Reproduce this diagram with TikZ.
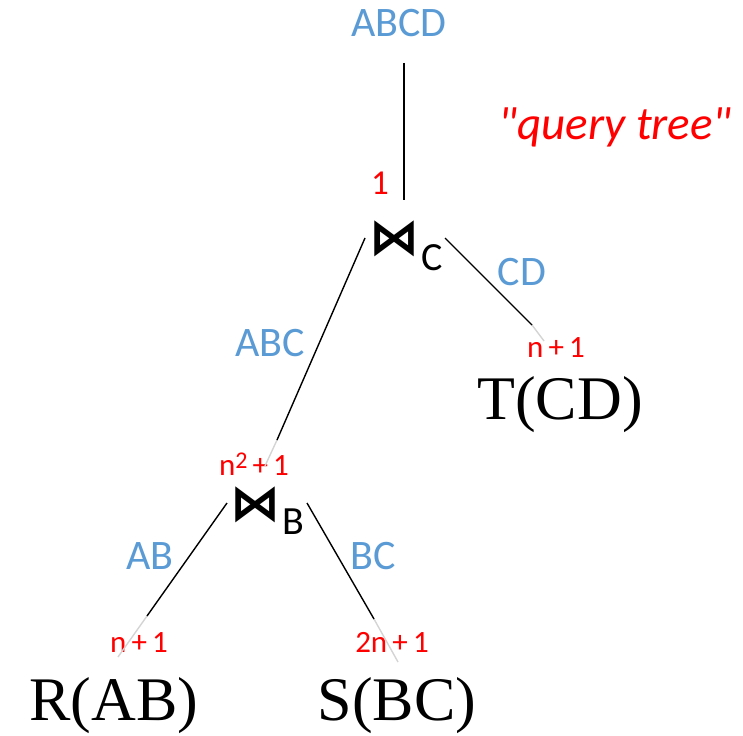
\documentclass[tikz,border=0pt]{standalone}
\usepackage{fontspec}
\setmainfont{Carlito}
\newfontfamily\leaffont{Liberation Serif}
\newfontfamily\bowfont{DejaVu Sans}
\definecolor{lblblue}{HTML}{5B9BD5}
\definecolor{tailgray}{HTML}{D4D4D4}
\tikzset{
  attrlbl/.style={inner sep=0pt, anchor=base, text=lblblue, font=\fontsize{42}{48}\selectfont},
  cardlbl/.style={inner sep=0pt, anchor=base, text=red, font=\fontsize{31}{36}\selectfont},
  leaflbl/.style={inner sep=0pt, anchor=base, text=black, font=\leaffont\fontsize{62}{70}\selectfont},
  joinsym/.style={inner sep=0pt, anchor=base, text=black, font=\bowfont\bfseries\fontsize{50}{56}\selectfont},
  joinsub/.style={inner sep=0pt, anchor=base, text=black, font=\fontsize{40}{46}\selectfont},
  conn/.style={line width=1.4pt, black},
  tailseg/.style={line width=1.4pt, tailgray},
}
\begin{document}
\begin{tikzpicture}[x=1pt,y=-1pt]
\useasboundingbox (0,0) rectangle (743,735);
% labels
\node[attrlbl] (abcd) at (399,37) {ABCD};
\node[inner sep=0pt, anchor=base, text=red, font=\itshape\fontsize{47}{52}\selectfont] (qt) at (615,140) {\textquotedbl query tree\textquotedbl};
\node[inner sep=0pt, anchor=base, text=red, font=\fontsize{35}{40}\selectfont] (c1) at (380,195) {1};
\node[joinsym] (jc) at (394,254) {⋈};
\node[joinsub] (sc) at (432,270) {C};
\node[attrlbl] (cd) at (522,285) {CD};
\node[attrlbl] (abc) at (270,356) {ABC};
\node[cardlbl] (ct) at (556,357) {n\,+\,1};
\node[leaflbl] (t) at (560,419) {T(CD)};
\node[cardlbl] (cb) at (254,475) {n{\fontsize{24}{28}\selectfont\raisebox{0.55ex}{2}}\,+\,1};
\node[joinsym] (jb) at (255,520) {⋈};
\node[joinsub] (sb) at (293,534) {B};
\node[attrlbl] (ab) at (150,569) {AB};
\node[attrlbl] (bc) at (373,569) {BC};
\node[cardlbl] (cr) at (139,652) {n\,+\,1};
\node[cardlbl] (cs) at (392,652) {2n\,+\,1};
\node[leaflbl] (r) at (114,720) {R(AB)};
\node[leaflbl] (s) at (397,720) {S(BC)};
% connector end points
\coordinate (p0) at (404,63);
\coordinate (p1) at (404,200);
\coordinate (q0) at (365,238);
\coordinate (q1) at (277,440);
\coordinate (q2) at (265,466);
\coordinate (u0) at (445,238);
\coordinate (u1) at (532,325);
\coordinate (u2) at (544,341);
\coordinate (v0) at (227,503);
\coordinate (v1) at (147,616);
\coordinate (v2) at (118,657);
\coordinate (w0) at (307,503);
\coordinate (w1) at (374,619);
\coordinate (w2) at (398,662);
% connectors
\draw[conn] (p0) -- (p1);
\draw[tailseg] (q1) -- (q2);
\draw[conn] (q0) -- (q1);
\draw[tailseg] (u1) -- (u2);
\draw[conn] (u0) -- (u1);
\draw[tailseg] (v1) -- (v2);
\draw[conn] (v0) -- (v1);
\draw[tailseg] (w1) -- (w2);
\draw[conn] (w0) -- (w1);
\end{tikzpicture}
\end{document}
